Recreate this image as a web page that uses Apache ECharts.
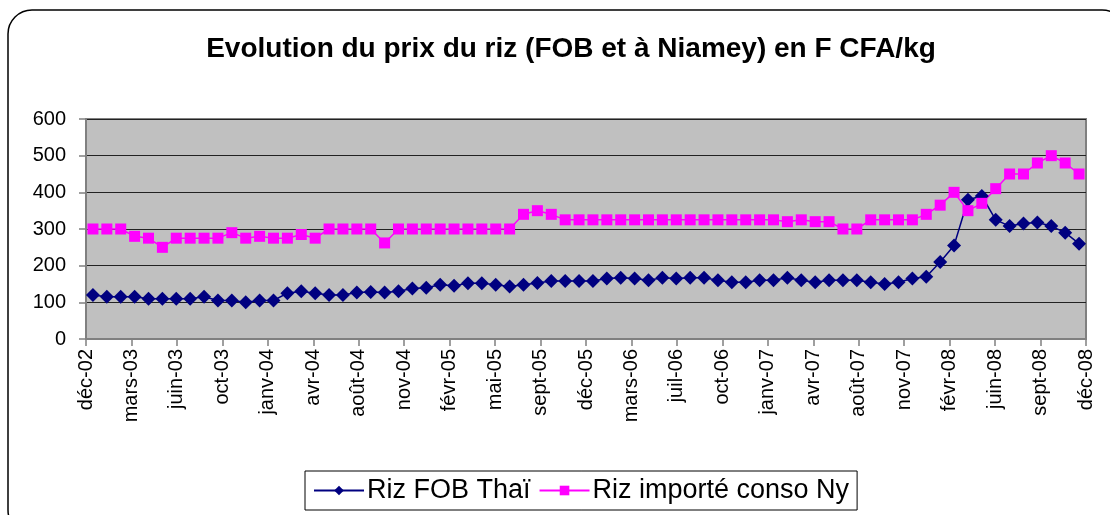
<!DOCTYPE html>
<html>
<head>
<meta charset="utf-8">
<script src="https://cdn.jsdelivr.net/npm/echarts@6/dist/echarts.min.js"></script>
<style>
html,body{margin:0;padding:0;background:#fff;}
#main{width:1110px;height:515px;}
</style>
</head>
<body>
<div id="main"></div>
<script>
// axis labels (one tick every 72/22 months, as in the original Excel date axis)
var tickLabels = ['déc-02','mars-03','juin-03','oct-03','janv-04','avr-04','août-04','nov-04','févr-05','mai-05','sept-05',
    'déc-05','mars-06','juil-06','oct-06','janv-07','avr-07','août-07','nov-07','févr-08','juin-08','sept-08','déc-08'];
// monthly prices, déc-02 .. nov-08 (72 months)
var rizFob = [120,115,115,115,110,110,110,110,115,105,105,100,105,105,125,130,125,120,120,127,
    128,127,130,138,140,148,145,152,152,148,143,148,153,158,158,158,158,165,167,
    165,160,167,165,167,167,160,155,155,160,160,167,160,155,160,160,160,
    155,150,155,165,170,210,255,380,390,325,308,315,318,308,290,260];
var rizNiamey = [300,300,300,280,275,250,275,275,275,275,290,275,280,275,275,285,275,300,300,300,
    300,262,300,300,300,300,300,300,300,300,300,340,350,340,325,325,325,325,325,
    325,325,325,325,325,325,325,325,325,325,325,320,325,320,320,300,300,
    325,325,325,325,340,365,400,350,370,410,450,450,480,500,480,450];

var nMonths = rizFob.length;
var step = nMonths / (tickLabels.length - 1);
var tickPos = [];
for (var k = 0; k < tickLabels.length; k++) {
    tickPos.push(k * step);
}
function toPoints(arr) {
    var out = [];
    for (var i = 0; i < arr.length; i++) {
        out.push([i + 0.5, arr[i]]);
    }
    return out;
}

var chart = echarts.init(document.getElementById('main'));
var option = {
    animation: false,
    backgroundColor: '#fff',
    textStyle: {fontFamily: 'Liberation Sans, Arial, sans-serif'},
    title: {
        text: 'Evolution du prix du riz (FOB et à Niamey) en F CFA/kg',
        left: 566,
        textAlign: 'center',
        top: 30,
        textStyle: {fontSize: 28, fontWeight: 'bold', color: '#000', fontFamily: 'Liberation Sans, Arial, sans-serif'}
    },
    graphic: [{
        type: 'rect',
        shape: {x: 8, y: 10, width: 1118, height: 524, r: 24},
        style: {fill: 'none', stroke: '#000', lineWidth: 1.5},
        silent: true,
        z: -1
    }],
    legend: {
        bottom: 5,
        left: 305,
        itemGap: 8,
        itemWidth: 50,
        itemHeight: 12,
        borderColor: '#000',
        borderWidth: 1,
        padding: [6, 8, 6, 8],
        textStyle: {fontSize: 27, color: '#000', padding: [0, 0, 0, -2]},
        data: ['Riz FOB Thaï', 'Riz importé conso Ny']
    },
    grid: {
        left: 86,
        right: 24,
        top: 119,
        bottom: 176,
        show: true,
        backgroundColor: '#C0C0C0',
        borderColor: '#808080',
        borderWidth: 2
    },
    xAxis: {
        type: 'value',
        min: 0,
        max: nMonths,
        axisLine: {show: true, onZero: false, lineStyle: {color: '#808080', width: 2}},
        axisTick: {show: true, length: 7, customValues: tickPos, lineStyle: {color: '#808080', width: 1.5}},
        splitLine: {show: false},
        axisLabel: {
            customValues: tickPos,
            rotate: 90,
            margin: 10,
            fontSize: 20,
            color: '#000',
            formatter: function (v) {
                return tickLabels[Math.round(v / step)];
            }
        }
    },
    yAxis: {
        type: 'value',
        min: 0,
        max: 600,
        interval: 100,
        axisLine: {show: true, lineStyle: {color: '#808080', width: 2}},
        axisTick: {show: true, length: 7, lineStyle: {color: '#808080', width: 1.5}},
        splitLine: {show: true, lineStyle: {color: '#222', width: 1.2}},
        axisLabel: {fontSize: 20, color: '#000', margin: 20}
    },
    series: [
        {
            name: 'Riz FOB Thaï',
            type: 'line',
            data: toPoints(rizFob),
            symbol: 'diamond',
            symbolSize: 14,
            itemStyle: {color: '#000080'},
            lineStyle: {color: '#000080', width: 1.5}
        },
        {
            name: 'Riz importé conso Ny',
            type: 'line',
            data: toPoints(rizNiamey),
            symbol: 'rect',
            symbolSize: 11,
            itemStyle: {color: '#FF00FF'},
            lineStyle: {color: '#FF00FF', width: 1.5}
        }
    ]
};
chart.setOption(option);
</script>
</body>
</html>
